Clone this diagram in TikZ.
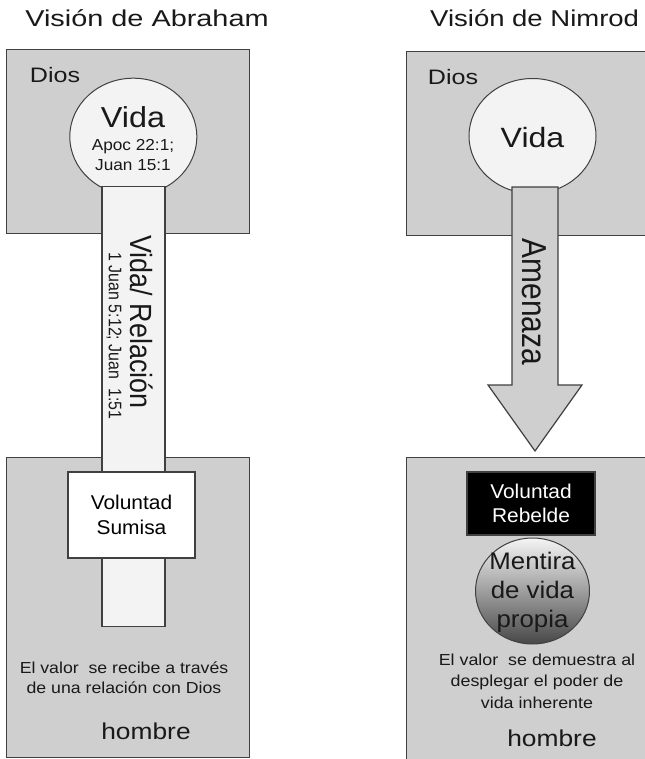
\documentclass[tikz,border=0pt]{standalone}
\usepackage{fontspec}
\setmainfont{Liberation Sans}
\usetikzlibrary{shapes.geometric}
\definecolor{boxgray}{HTML}{CFCFCF}
\definecolor{lightfill}{HTML}{F3F3F3}
\definecolor{edgecol}{HTML}{404040}
\newcommand\fs[2]{\fontsize{#1}{#2}\selectfont}
\newcommand\hsc[2]{\scalebox{#1}[1]{#2}}
\newcommand\vsc[2]{\scalebox{1}[#1]{#2}}
\begin{document}
\begin{tikzpicture}[x=1bp,y=-1bp,
  panel/.style={rectangle, draw=edgecol, line width=1.2bp, fill=boxgray, inner sep=0, anchor=north west},
  lifecirc/.style={ellipse, draw=edgecol, line width=1bp, fill=lightfill, inner sep=0},
  txt/.style={inner sep=0, align=center, text=black!90},
  willbox/.style={rectangle, draw=edgecol, line width=1.2bp, inner sep=0, align=center},
  arrowshape/.style={draw=edgecol, line width=1.2bp, fill=boxgray, line join=miter},
]
\clip (0,0) rectangle (645,759);
\fill[white] (0,0) rectangle (645,759);

% ---------- Left: Abraham ----------
\node[txt, font=\fs{23}{27}] (titleA) at (147,18) {\hsc{1.26}{Visión de Abraham}};
\node[panel, minimum width=243bp, minimum height=184bp] (diosA) at (6,49) {};
\node[txt, font=\fs{21}{25}] (diosAlbl) at (55,75) {\hsc{1.2}{Dios}};
\node[lifecirc, minimum width=127bp, minimum height=117bp] (vidaA) at (133.3,136.7) {};
\node[panel, minimum width=243bp, minimum height=300bp] (hombreA) at (6,457) {};
\node[rectangle, draw=edgecol, line width=1.2bp, fill=lightfill, inner sep=0, anchor=north,
      minimum width=63bp, minimum height=440bp] (barA) at (133.5,186) {};
\node[txt, font=\fs{29}{34}] (vidaAlbl) at (133,117) {\hsc{1.12}{Vida}};
\node[txt, font=\fs{16}{20}] (apocA) at (133,155) {\hsc{1.08}{Apoc 22:1;}\\\hsc{1.08}{Juan 15:1}};
\node[txt, rotate=-90, font=\fs{27}{30}] (relA) at (142,322) {\vsc{1.14}{Vida/ Relación}};
\node[txt, rotate=-90, font=\fs{16}{20}] (refA) at (114,336) {\vsc{1.14}{1 Juan 5:12; Juan\ \ 1:51}};
\node[willbox, fill=white, minimum width=127bp, minimum height=86bp, font=\fs{20}{25}] (sumisa) at (131.5,515)
  {\hsc{1.05}{Voluntad}\\\hsc{1.05}{Sumisa}};
\node[txt, font=\fs{16}{20}] (valorA) at (124,678) {\hsc{1.11}{El valor\ \ se recibe a través}\\\hsc{1.11}{de una relación con Dios}};
\node[txt, font=\fs{23}{27}] (hombreAlbl) at (146,731) {\hsc{1.15}{hombre}};

% ---------- Right: Nimrod ----------
\node[txt, anchor=west, font=\fs{23}{27}] (titleN) at (430,18) {\hsc{1.2}{Visión de Nimrod}};
\node[panel, minimum width=300bp, minimum height=184bp] (diosN) at (406,51) {};
\node[txt, font=\fs{21}{25}] (diosNlbl) at (453,77) {\hsc{1.2}{Dios}};
\node[lifecirc, minimum width=127bp, minimum height=115bp] (vidaN) at (532.5,136) {};
\node[txt, font=\fs{28}{32}] (vidaNlbl) at (532.5,138) {\hsc{1.15}{Vida}};
\coordinate (arTL) at (512,187);
\coordinate (arTR) at (558,187);
\coordinate (tip) at (535,451);
\draw[arrowshape] (arTL) -- (arTR) -- (558,385) -- (582,385) -- (tip) -- (488,385) -- (512,385) -- cycle;
\node[txt, rotate=-90, font=\fs{30}{34}] (amenaza) at (534,302) {\vsc{1.16}{Amenaza}};
\node[panel, minimum width=300bp, minimum height=400bp] (hombreN) at (406,457) {};
\node[willbox, fill=black, text=white, minimum width=128bp, minimum height=63bp, font=\fs{20}{24}] (rebelde) at (531,503.5)
  {\hsc{1.05}{Voluntad}\\\hsc{1.05}{Rebelde}};
\node[ellipse, draw=edgecol, line width=1bp, inner sep=0, top color=white!96!black, bottom color=black!72,
      minimum width=114bp, minimum height=106bp] (mentira) at (532.5,591) {};
\node[txt, font=\fs{24}{29}] (mentiraLbl) at (532.5,592) {\hsc{1.08}{Mentira}\\\hsc{1.08}{de vida}\\\hsc{1.08}{propia}};
\node[txt, font=\fs{16}{21.5}] (valorN) at (537,681) {\hsc{1.12}{El valor\ \ se demuestra al}\\\hsc{1.12}{desplegar el poder de}\\\hsc{1.12}{vida inherente}};
\node[txt, font=\fs{23}{27}] (hombreNlbl) at (552,738) {\hsc{1.15}{hombre}};
\end{tikzpicture}
\end{document}
